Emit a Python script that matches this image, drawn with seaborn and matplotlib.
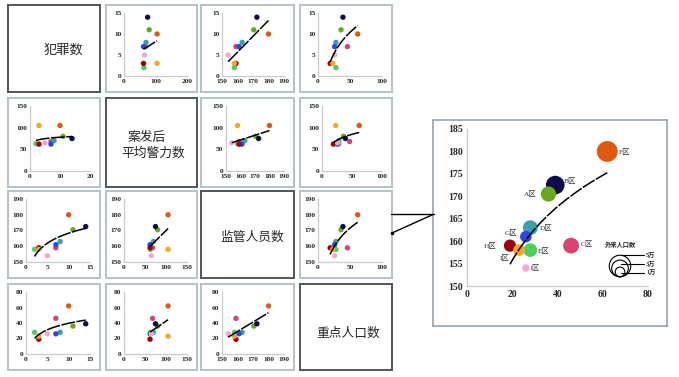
import numpy as np
import pandas as pd
import seaborn as sns
import matplotlib.pyplot as plt
from matplotlib.lines import Line2D

# data per district
regions = ["A区", "B区", "C区", "D区", "E区", "F区", "G区", "H区", "I区", "J区"]
crime = [11, 14, 7, 8, 2, 10, 7, 3, 3, 5]
police = [80, 75, 68, 70, 63, 105, 62, 62, 105, 65]
staff = [170.5, 172.5, 159, 163, 158, 180, 161, 159, 158, 154]
keypop = [36, 39, 46, 28, 28, 62, 26, 19, 23, 26]
migrant = [2.5, 3.75, 2.7, 2.36, 2.0, 4.7, 1.44, 1.6, 1.5, 0.6]  # 万
colors = ["#6aa820", "#0c0c4a", "#d8436f", "#3aa0ae", "#48d060",
          "#e2580e", "#2d45e8", "#a0000c", "#f8a820", "#f4a8cc"]

variables = ["犯罪数", "案发后平均警力数", "监管人员数", "重点人口数"]
df = pd.DataFrame({"区": regions, "犯罪数": crime, "案发后平均警力数": police,
                   "监管人员数": staff, "重点人口数": keypop, "外来人口数": migrant})
palette = dict(zip(regions, colors))
log_fit = {"犯罪数": True, "案发后平均警力数": False, "监管人员数": False, "重点人口数": True}

# axis ranges for each cell (row = y variable, column = x variable)
y_ranges = [(0, 15, 5), (0, 150, 50), (150, 190, 10), (0, 80, 20)]
x_ranges = {
    (0, 1): (0, 200, 100), (0, 2): (150, 190, 10), (0, 3): (0, 100, 50),
    (1, 0): (0, 20, 10), (1, 2): (150, 190, 10), (1, 3): (0, 100, 50),
    (2, 0): (0, 15, 5), (2, 1): (0, 150, 50), (2, 3): (0, 100, 50),
    (3, 0): (0, 15, 5), (3, 1): (0, 150, 50), (3, 2): (150, 190, 10),
}
size_legend = [5, 3, 1]
size_legend_labels = ["5万", "3万", "1万"]

sns.set_theme(style="white")
plt.rcParams["font.family"] = ["Liberation Serif", "Noto Sans CJK SC"]
cjk = ["Noto Sans CJK SC", "DejaVu Sans"]

W, H = 679, 377
fig = plt.figure(figsize=(W / 100, H / 100), dpi=100)


def px_rect(x0, y0, x1, y1):
    return [x0 / W, 1 - y1 / H, (x1 - x0) / W, (y1 - y0) / H]


def style_inner(ax, fs, pad=2):
    for side in ["top", "right"]:
        ax.spines[side].set_visible(False)
    for side in ["left", "bottom"]:
        ax.spines[side].set_color("#c5cdd2")
        ax.spines[side].set_linewidth(0.9)
    ax.tick_params(length=0, pad=pad, labelsize=fs)
    for lab in ax.get_xticklabels() + ax.get_yticklabels():
        lab.set_fontweight("bold")
    ax.set_xlabel("")
    ax.set_ylabel("")


cols = [(8, 100), (106, 197), (201, 294), (300, 392)]
rows = [(5, 92), (98, 187), (191, 278), (284, 370)]

for i, yv in enumerate(variables):
    for j, xv in enumerate(variables):
        x0, x1 = cols[j]
        y0, y1 = rows[i]
        frame = fig.add_axes(px_rect(x0, y0, x1, y1))
        frame.set_xticks([])
        frame.set_yticks([])
        for s in frame.spines.values():
            s.set_color("#555555" if i == j else "#b7c2c8")
            s.set_linewidth(1.4)
        if i == j:
            if i == 0:
                frame.text(0.6, 0.48, "犯罪数", ha="center", va="center", fontsize=9.5, family=cjk)
            elif i == 1:
                frame.text(0.24, 0.56, "案发后", ha="left", va="center", fontsize=9.2, family=cjk)
                frame.text(0.165, 0.38, "平均警力数", ha="left", va="center", fontsize=9.2, family=cjk)
            elif i == 2:
                frame.text(0.55, 0.47, "监管人员数", ha="center", va="center", fontsize=9.2, family=cjk)
            else:
                frame.text(0.52, 0.43, "重点人口数", ha="center", va="center", fontsize=9.2, family=cjk)
            continue
        left = 22 if i == 1 else 18
        if j == 2:
            left += 3
        ax = fig.add_axes(px_rect(x0 + left, y0 + 8, x1 - 10, y1 - 16))
        sns.scatterplot(data=df, x=xv, y=yv, hue="区", palette=palette, s=15,
                        linewidth=0, legend=False, ax=ax)
        sns.regplot(data=df, x=xv, y=yv, scatter=False, ci=None, logx=log_fit[xv],
                    color="black", line_kws=dict(lw=1.1, dashes=(9, 1), zorder=4), ax=ax)
        xlo, xhi, xst = x_ranges[(i, j)]
        ylo, yhi, yst = y_ranges[i]
        ax.set_xlim(xlo, xhi)
        ax.set_ylim(ylo, yhi)
        ax.set_xticks(np.arange(xlo, xhi + 1, xst))
        ax.set_yticks(np.arange(ylo, yhi + 1, yst))
        style_inner(ax, 5.3)

# enlarged bubble chart: 重点人口数 vs 监管人员数
box = fig.add_axes(px_rect(433, 120, 667, 326))
box.set_xticks([])
box.set_yticks([])
for s in box.spines.values():
    s.set_color("#8d9ca5")
    s.set_linewidth(1.1)

bax = fig.add_axes(px_rect(467, 129, 648, 286))
bax.patch.set_alpha(0)
order = df.sort_values("外来人口数", ascending=False)
sns.scatterplot(data=order, x="重点人口数", y="监管人员数", hue="区", palette=palette,
                size="外来人口数", sizes=(0, 240), size_norm=(0, 5), linewidth=0,
                alpha=1, legend=False, clip_on=False, ax=bax)
sns.regplot(data=df, x="重点人口数", y="监管人员数", scatter=False, ci=None, logx=True,
            color="black", line_kws=dict(lw=1.1, dashes=(9, 1), zorder=4), ax=bax)
bax.set_xlim(0, 80)
bax.set_ylim(150, 185)
bax.set_xticks([0, 20, 40, 60, 80])
bax.set_yticks(np.arange(150, 186, 5))
style_inner(bax, 7, pad=3)

# district labels (offsets in points)
label_offsets = {"A区": (-8.6, 0.5, "right"), "B区": (5.8, 3.6, "left"),
                 "C区": (6.8, 1.4, "left"), "D区": (6.5, 0, "left"),
                 "E区": (5.3, 0, "left"), "F区": (8, 0, "left"),
                 "G区": (-6, 2.7, "right"), "H区": (-9.6, 0, "right"),
                 "I区": (-7.2, -5.5, "right"), "J区": (2.9, 0.7, "left")}
for _, r in df.iterrows():
    dx, dy, ha = label_offsets[r["区"]]
    bax.annotate(r["区"], (r["重点人口数"], r["监管人员数"]), xytext=(dx, dy),
                 textcoords="offset points", ha=ha, va="center", fontsize=5.3,
                 color="#333333", zorder=5)


# bubble size legend
def to_axes(px, py):
    return ((px - 467) / (648 - 467), (286 - py) / (286 - 129))


bax.text(*to_axes(620, 244), "外来人口数", transform=bax.transAxes, ha="center",
         va="center", fontsize=4.5, family=cjk, fontweight="bold")
for val, lab, ly in zip(size_legend, size_legend_labels, [255, 264, 272.5]):
    r_px = 4.8 * np.sqrt(val)
    cy = 276.7 - r_px
    bax.scatter(*to_axes(620, cy), s=48 * val, transform=bax.transAxes,
                facecolors="none", edgecolors="black", linewidths=0.8, clip_on=False)
    bax.plot([to_axes(621, ly)[0], to_axes(644, ly)[0]],
             [to_axes(621, ly)[1]] * 2, transform=bax.transAxes, color="black",
             lw=0.8, clip_on=False)
    bax.text(*to_axes(646, ly), lab, transform=bax.transAxes, ha="left", va="center",
             fontsize=4.5, fontweight="bold")

# connector lines from the small cell to the big chart
fig.add_artist(Line2D([391 / W, 434 / W], [1 - 214 / H, 1 - 214 / H],
                      transform=fig.transFigure, color="black", lw=1))
fig.add_artist(Line2D([392 / W, 433 / W], [1 - 233 / H, 1 - 214.5 / H],
                      transform=fig.transFigure, color="black", lw=1,
                      marker="o", markersize=1.5, markevery=[0]))

fig.savefig("out.png", dpi=100)
